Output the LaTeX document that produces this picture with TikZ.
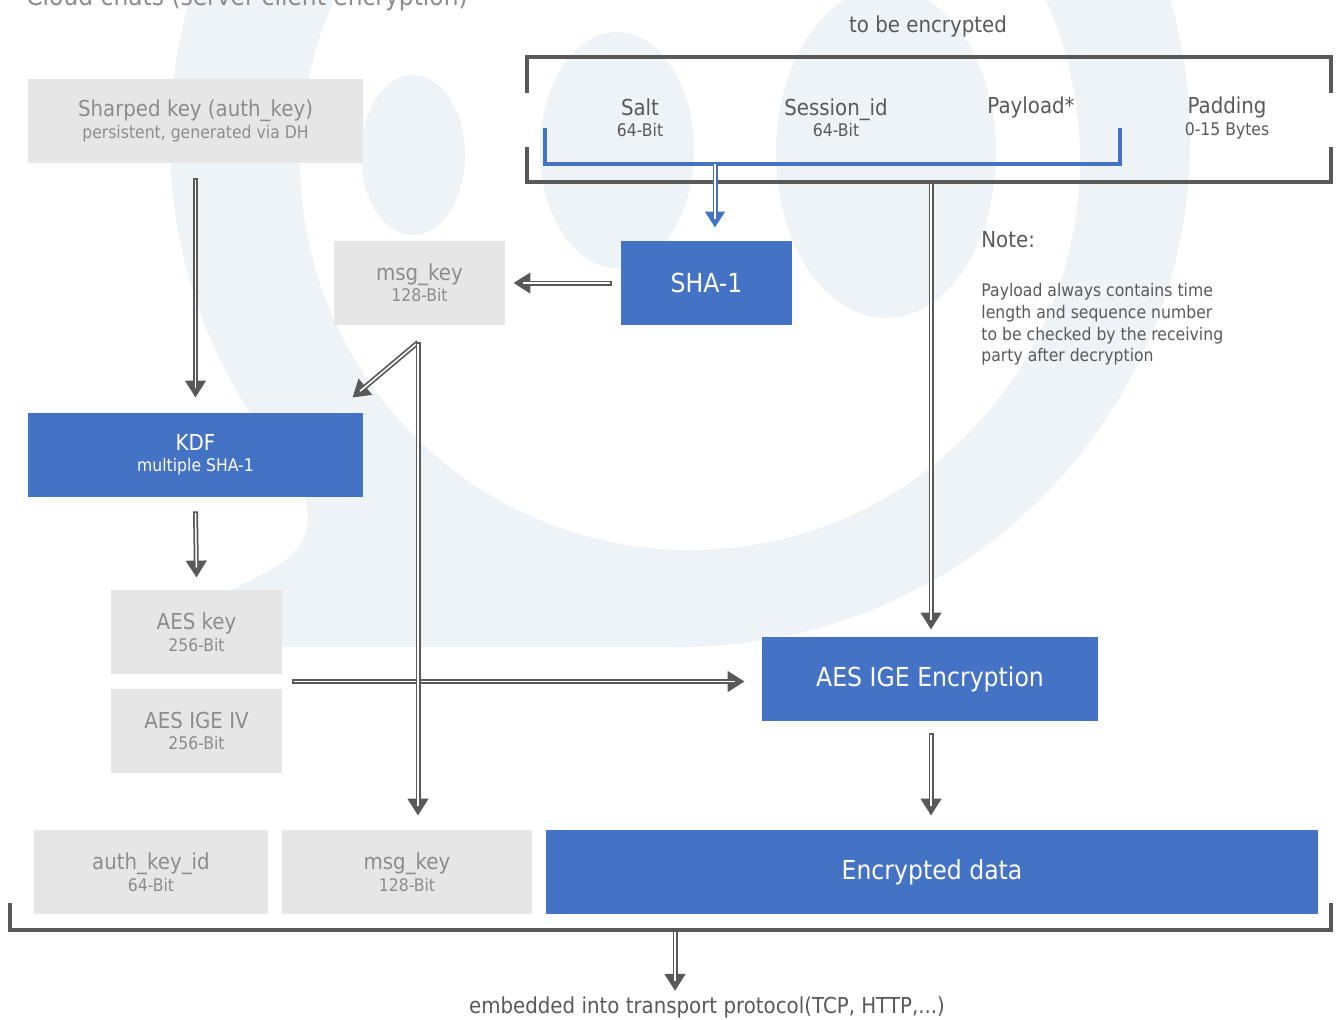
\documentclass[tikz,border=0pt]{standalone}
\usepackage{fontspec}
\setmainfont{DejaVu Sans}[FakeStretch=0.9]
\usetikzlibrary{arrows.meta,calc}
\definecolor{bgl}{RGB}{238,243,248}
\definecolor{boxg}{RGB}{230,230,230}
\definecolor{blu}{RGB}{68,114,196}
\definecolor{dg}{RGB}{89,89,89}
\definecolor{tg}{RGB}{140,140,140}
\definecolor{lt}{RGB}{89,89,89}
\newcommand\subf{\fontsize{8.7}{10.75}\selectfont}
\newcommand\mainf{\fontsize{11}{10.75}\selectfont}
\newcommand\bigf{\fontsize{13.1}{14}\selectfont}
\tikzset{
  gbox/.style={fill=boxg, text=tg, inner sep=0pt, align=center, font=\mainf, minimum height=42pt},
  bbox/.style={fill=blu, text=white, inner sep=0pt, align=center, font=\mainf, minimum height=42pt},
  lab/.style={text=lt, inner sep=0pt, align=center, font=\mainf},
  garrow/.style={draw=dg, line width=2.5pt, -{Triangle[length=8.5pt,width=10pt]},
    postaction={draw=white, line width=0.75pt, -, shorten >=5pt, shorten <=0.8pt}},
  barrow/.style={draw=blu, line width=2.5pt, -{Triangle[length=8pt,width=9.5pt]},
    postaction={draw=white, line width=0.9pt, -, shorten >=4.5pt}},
  brk/.style={draw=dg, line width=2pt},
  bbrk/.style={draw=blu, line width=1.75pt},
}
\begin{document}
\begin{tikzpicture}[x=0.5pt,y=-0.5pt]
\useasboundingbox (0,0) rectangle (1336,1019);
% background logo
\begin{scope}
\clip (0,0) rectangle (1336,1019);
\fill[bgl] (680,140) ellipse [x radius=510, y radius=507];
\fill[bgl] (290,465) .. controls (305,490) and (316,520) .. (300,545)
  .. controls (290,560) and (270,572) .. (230,590) -- (150,647) -- (690,647) -- (690,460) -- cycle;
\fill[white] (690,160) circle (390);
\fill[bgl] (413,155) ellipse [x radius=52, y radius=80];
\fill[bgl] (617,150) ellipse [x radius=77, y radius=118];
\fill[bgl] (886,153) ellipse [x radius=110, y radius=165];
\end{scope}
% title (cut off at the top edge, as in the original)
\node[lab, text=tg, anchor=base west, font=\fontsize{13}{14}\selectfont] (title) at (26,5) {Cloud chats (server-client encryption)};
% brackets
\draw[brk] (527,93) -- (527,57) -- (1331,57) -- (1331,93);
\draw[brk] (527,147) -- (527,182) -- (1331,182) -- (1331,147);
\draw[bbrk] (545,128) -- (545,164) -- (1120,164) -- (1120,128);
\draw[brk] (10,903) -- (10,930) -- (1331,930) -- (1331,903);
\coordinate (tbr) at (931,182);
\coordinate (blb) at (715,164);
\coordinate (bbr) at (675,930);
% boxes
\node[gbox, minimum width=167.5pt] (sk) at (195.5,121) {Sharped key (auth\_key)\\{\subf persistent, generated via DH}};
\node[gbox, minimum width=85.5pt] (mk1) at (419.5,283) {msg\_key\\{\subf 128-Bit}};
\node[bbox, minimum width=85.5pt, font=\bigf] (sha) at (706.5,283) {SHA-1};
\node[bbox, minimum width=167.5pt] (kdf) at (195.5,455) {KDF\\{\subf multiple SHA-1}};
\node[gbox, minimum width=85.5pt] (aesk) at (196.5,632) {AES key\\{\subf 256-Bit}};
\node[gbox, minimum width=85.5pt] (aesiv) at (196.5,731) {AES IGE IV\\{\subf 256-Bit}};
\node[bbox, minimum width=168pt, font=\bigf] (enc) at (930,679) {AES IGE Encryption};
\node[gbox, minimum width=117pt] (akid) at (151,872) {auth\_key\_id\\{\subf 64-Bit}};
\node[gbox, minimum width=125pt] (mk2) at (407,872) {msg\_key\\{\subf 128-Bit}};
\node[bbox, minimum width=386pt, font=\bigf] (ed) at (932,872) {Encrypted data};
% labels
\node[lab] (tbe) at (928,26) {to be encrypted};
\node[lab] (salt) at (640,118) {Salt\\{\subf 64-Bit}};
\node[lab] (sess) at (836,118) {Session\_id\\{\subf 64-Bit}};
\node[lab] (pay) at (1031,107) {Payload*};
\node[lab] (pad) at (1227,118) {Padding\\{\subf 0-15 Bytes}};
\node[lab, anchor=west] (note) at (981,240) {Note:};
\node[lab, anchor=north west, align=left, font=\fontsize{8.7}{10.85}\selectfont] (notet) at (981,283)
  {Payload always contains time\\length and sequence number\\to be checked by the receiving\\party after decryption};
\node[lab] (emb) at (707,1007) {embedded into transport protocol(TCP, HTTP,...)};
% connectors
\draw[barrow] (blb) -- ($(blb |- sha.north)+(0,6.5pt)$);
\draw[garrow] ([yshift=-7.5pt]sk.south) -- ([yshift=7.5pt]kdf.north);
\draw[garrow] ([xshift=-4.5pt]sha.west) -- ([xshift=4pt]mk1.east);
\draw[garrow] ([xshift=-0.75pt,yshift=-8.5pt]mk1.south) -- ([xshift=-5.5pt,yshift=7.5pt]kdf.north east);
\draw[garrow] ([yshift=-7pt]kdf.south) -- ([yshift=6pt]aesk.north);
\coordinate (ivm) at ($(aesk.south east)!0.5!(aesiv.north east)+(5pt,0)$);
\draw[garrow] (ivm) -- ($(ivm -| enc.west)+(-8.5pt,0)$);
\draw[garrow] ([xshift=-0.75pt,yshift=-8.5pt]mk1.south) -- ($(mk1.south |- mk2.north)+(-0.75pt,7pt)$);
\draw[garrow] (tbr) -- ($(tbr |- enc.north)+(0,3.5pt)$);
\draw[garrow] ([xshift=0.5pt,yshift=-6pt]enc.south) -- ($(enc.south |- ed.north)+(0.5pt,7pt)$);
\draw[garrow] (bbr) -- ($(bbr |- emb.north)+(0,2.5pt)$);
\end{tikzpicture}
\end{document}
